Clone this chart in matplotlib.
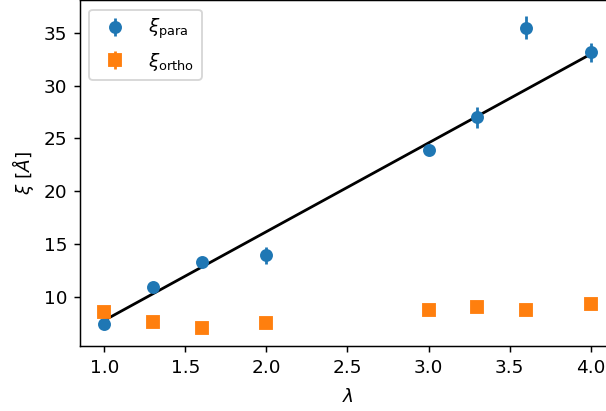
import numpy as np
import matplotlib
matplotlib.use("Agg")
import matplotlib.pyplot as plt

# values
lam = [1.0, 1.3, 1.6, 2.0, 3.0, 3.3, 3.6, 4.0]
xi_para = [7.4, 10.9, 13.3, 13.9, 23.9, 27.0, 35.5, 33.2]
xi_para_err = [0.4, 0.4, 0.4, 0.8, 0.5, 1.0, 1.1, 0.9]
xi_ortho = [8.5, 7.6, 7.0, 7.45, 8.7, 9.0, 8.7, 9.3]
xi_ortho_err = [0.2, 0.2, 0.2, 0.2, 0.2, 0.2, 0.2, 0.3]

# linear fit parameters (slope, intercept)
fit_slope = 8.42
fit_intercept = -0.68

DPI = 133
fig = plt.figure(figsize=(606 / DPI, 411 / DPI), dpi=DPI)
ax = fig.add_axes([80 / 606, 65 / 411, 535 / 606, 345.5 / 411])

ax.errorbar(lam, xi_para, yerr=xi_para_err, fmt='o', label=r'$\xi_{\rm para}$')
ax.errorbar(lam, xi_ortho, yerr=xi_ortho_err, fmt='s', label=r'$\xi_{\rm ortho}$')

x_fit = np.array([lam[0], lam[-1]])
ax.plot(x_fit, fit_slope * x_fit + fit_intercept, 'k-')

ax.set_xlabel(r'$\lambda$', labelpad=6)
ax.set_ylabel(r'$\xi\ [\AA]$')
ax.legend(loc='upper left')

fig.savefig('out.png', dpi=DPI)
